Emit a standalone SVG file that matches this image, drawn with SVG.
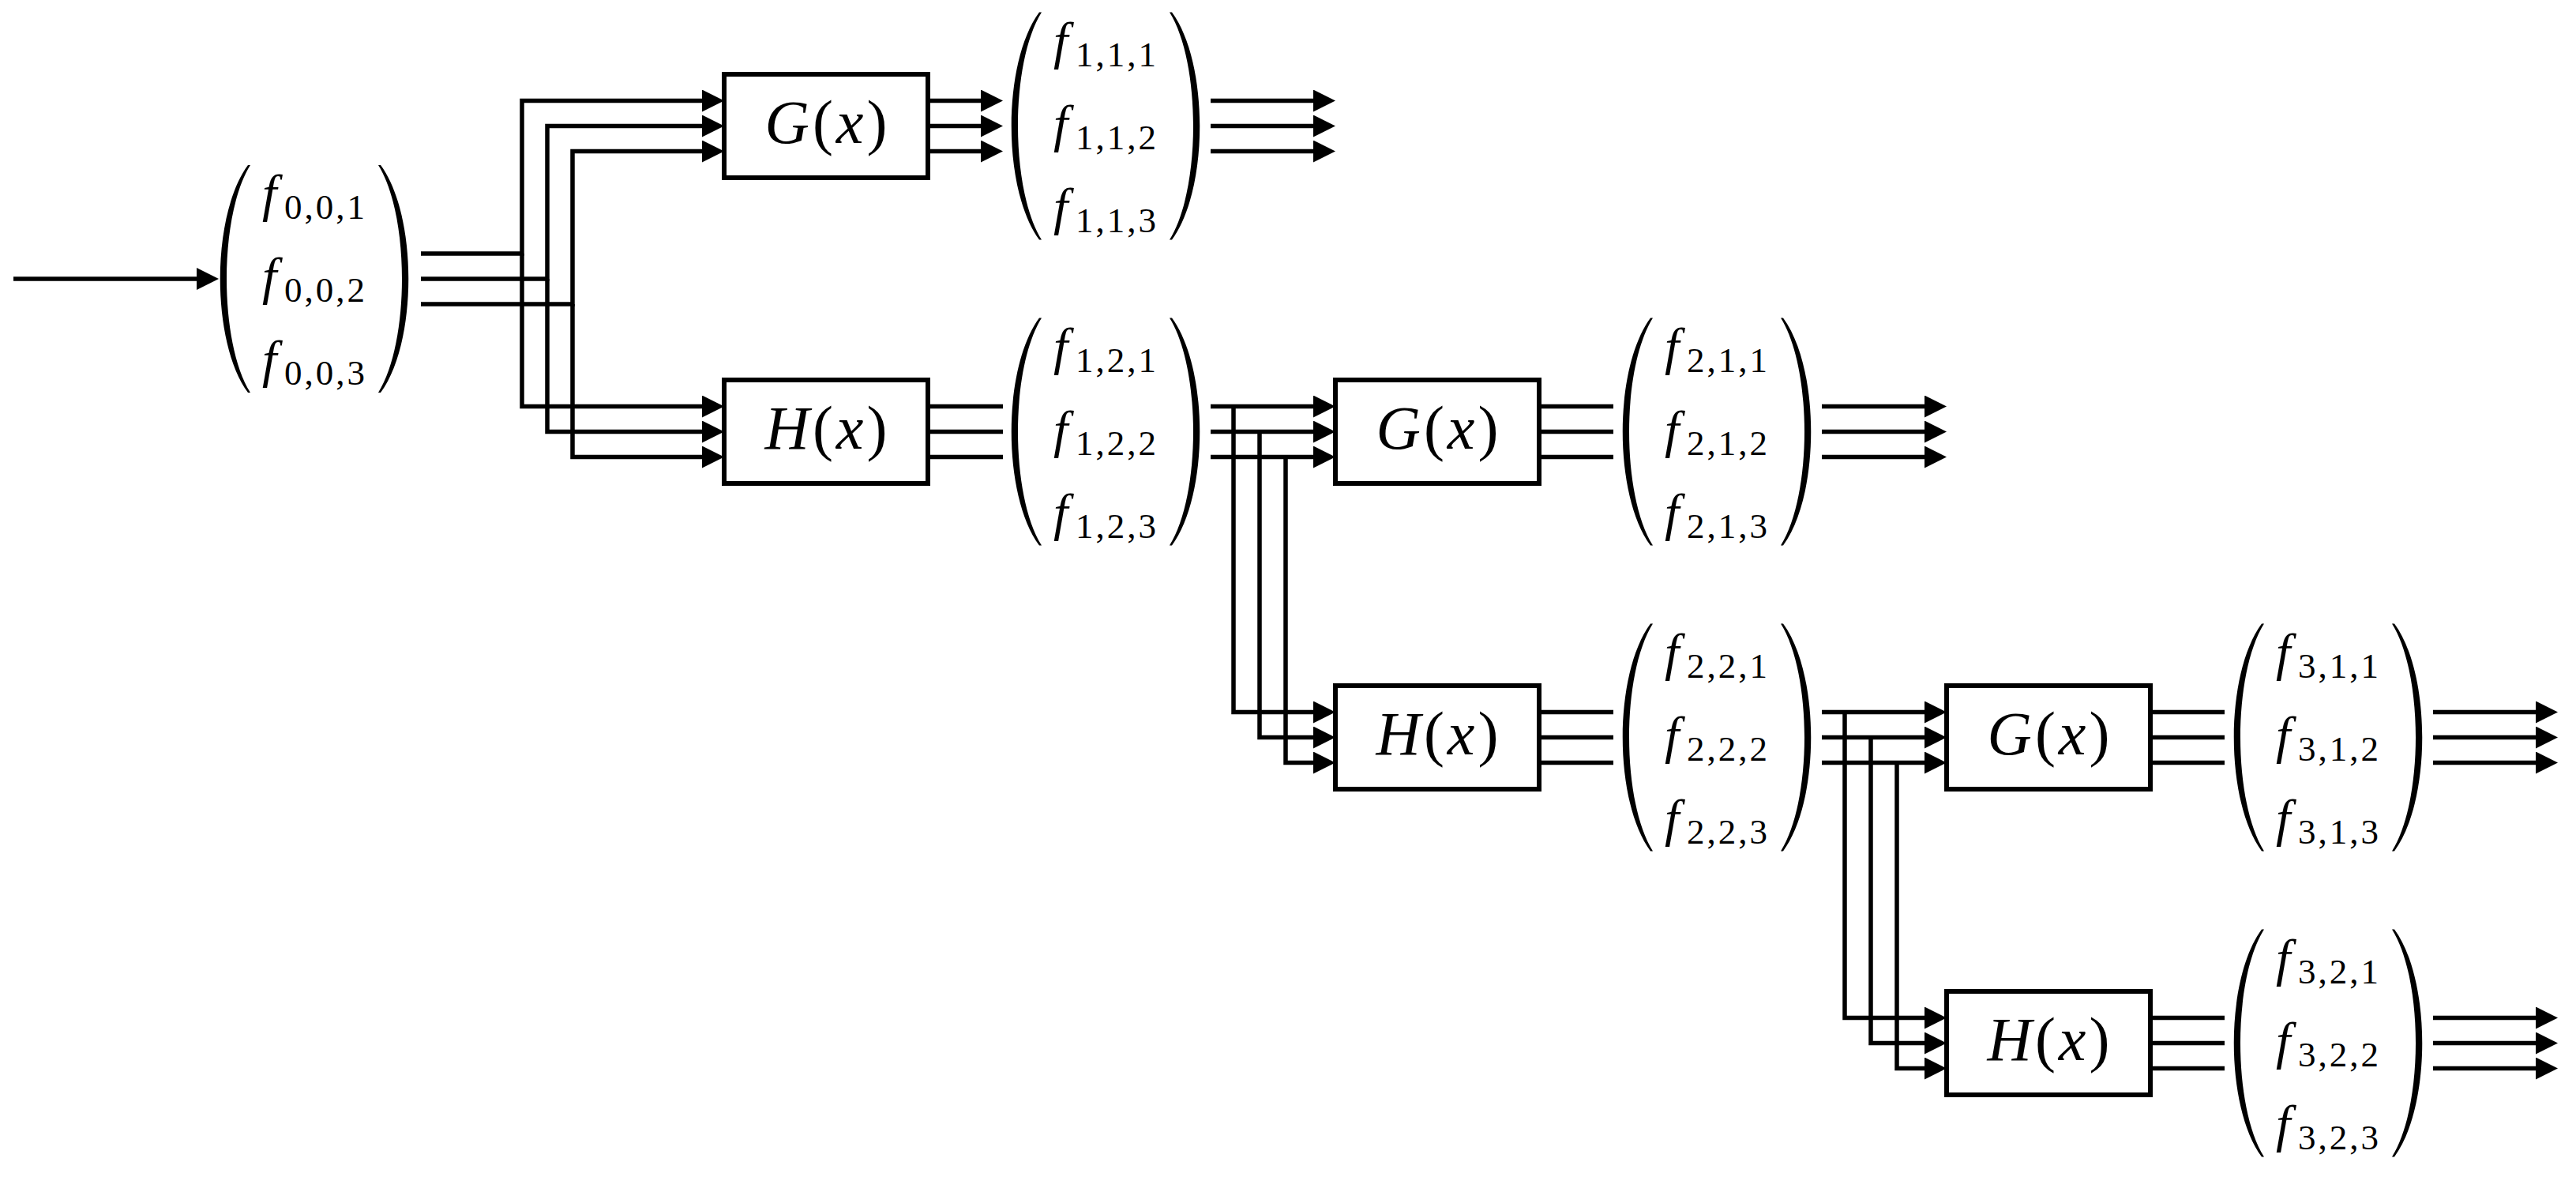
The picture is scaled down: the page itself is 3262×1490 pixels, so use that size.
<svg xmlns="http://www.w3.org/2000/svg" xmlns:xlink="http://www.w3.org/1999/xlink" width="3262" height="1490" viewBox="0 0 3262 1490">
<style>
.box{fill:#fff;stroke:#000;stroke-width:6}
.ln{fill:none;stroke:#000;stroke-width:5.5;stroke-linejoin:miter}
.arr{marker-end:url(#ah)}
.lbl{font-family:'Liberation Serif',serif;font-size:78px;letter-spacing:4px;fill:#000}
.it{font-style:italic}
.m{font-family:'Liberation Serif',serif;font-size:66px;font-style:italic;fill:#000}
.s{font-style:normal;font-size:45px;letter-spacing:3px}
</style>
<defs>
<marker id="ah" markerUnits="userSpaceOnUse" markerWidth="28" markerHeight="28" refX="18" refY="14" orient="auto"><path d="M0,0 L28,14 L0,28 Z" fill="#000"/></marker>
<path id="lp" d="M-84,-144 C-131,-80 -131,80 -84,144 L-81,144 C-121,80 -121,-80 -81,-144 Z" fill="#000"/>
</defs>
<rect width="3262" height="1490" fill="#fff"/>
<g id="connectors" class="ln">
<path class="arr" d="M17 353 H267"/>
<path class="arr" d="M533 321 H661 V127.5 H907"/>
<path class="arr" d="M661 321 V514.5 H907"/>
<path class="arr" d="M533 353 H693 V159.5 H907"/>
<path class="arr" d="M693 353 V546.5 H907"/>
<path class="arr" d="M533 385 H725 V191.5 H907"/>
<path class="arr" d="M725 385 V578.5 H907"/>
<path class="arr" d="M1175 127.5 H1260"/>
<path class="arr" d="M1175 159.5 H1260"/>
<path class="arr" d="M1175 191.5 H1260"/>
<path class="arr" d="M1533 127.5 H1681"/>
<path class="arr" d="M1533 159.5 H1681"/>
<path class="arr" d="M1533 191.5 H1681"/>
<path d="M1175 514.5 H1270 M1175 546.5 H1270 M1175 578.5 H1270"/>
<path class="arr" d="M1533 514.5 H1681"/>
<path class="arr" d="M1562 514.5 V901.5 H1681"/>
<path class="arr" d="M1533 546.5 H1681"/>
<path class="arr" d="M1595 546.5 V933.5 H1681"/>
<path class="arr" d="M1533 578.5 H1681"/>
<path class="arr" d="M1628 578.5 V965.5 H1681"/>
<path d="M1949 514.5 H2043 M1949 546.5 H2043 M1949 578.5 H2043"/>
<path class="arr" d="M2307 514.5 H2455"/>
<path class="arr" d="M2307 546.5 H2455"/>
<path class="arr" d="M2307 578.5 H2455"/>
<path d="M1949 901.5 H2043 M1949 933.5 H2043 M1949 965.5 H2043"/>
<path class="arr" d="M2307 901.5 H2455"/>
<path class="arr" d="M2336 901.5 V1288.5 H2455"/>
<path class="arr" d="M2307 933.5 H2455"/>
<path class="arr" d="M2369 933.5 V1320.5 H2455"/>
<path class="arr" d="M2307 965.5 H2455"/>
<path class="arr" d="M2402 965.5 V1352.5 H2455"/>
<path d="M2723 901.5 H2817 M2723 933.5 H2817 M2723 965.5 H2817"/>
<path class="arr" d="M3081 901.5 H3229"/>
<path class="arr" d="M3081 933.5 H3229"/>
<path class="arr" d="M3081 965.5 H3229"/>
<path d="M2723 1288.5 H2817 M2723 1320.5 H2817 M2723 1352.5 H2817"/>
<path class="arr" d="M3081 1288.5 H3229"/>
<path class="arr" d="M3081 1320.5 H3229"/>
<path class="arr" d="M3081 1352.5 H3229"/>
</g>
<g id="G1"><rect class="box" x="917" y="94" width="258" height="131"/><text class="lbl" x="1048" y="181" text-anchor="middle"><tspan class="it">G</tspan>(<tspan class="it">x</tspan>)</text></g>
<g id="H1"><rect class="box" x="917" y="481" width="258" height="131"/><text class="lbl" x="1048" y="568" text-anchor="middle"><tspan class="it">H</tspan>(<tspan class="it">x</tspan>)</text></g>
<g id="G2"><rect class="box" x="1691" y="481" width="258" height="131"/><text class="lbl" x="1822" y="568" text-anchor="middle"><tspan class="it">G</tspan>(<tspan class="it">x</tspan>)</text></g>
<g id="H2"><rect class="box" x="1691" y="868" width="258" height="131"/><text class="lbl" x="1822" y="955" text-anchor="middle"><tspan class="it">H</tspan>(<tspan class="it">x</tspan>)</text></g>
<g id="G3"><rect class="box" x="2465" y="868" width="258" height="131"/><text class="lbl" x="2596" y="955" text-anchor="middle"><tspan class="it">G</tspan>(<tspan class="it">x</tspan>)</text></g>
<g id="H3"><rect class="box" x="2465" y="1255" width="258" height="131"/><text class="lbl" x="2596" y="1342" text-anchor="middle"><tspan class="it">H</tspan>(<tspan class="it">x</tspan>)</text></g>
<g id="V0">
<use xlink:href="#lp" transform="translate(398,353)"/><use xlink:href="#lp" transform="translate(398,353) scale(-1,1)"/>
<text class="m" x="332" y="267">f<tspan class="s" x="360" y="277">0,0,1</tspan></text>
<text class="m" x="332" y="372">f<tspan class="s" x="360" y="382">0,0,2</tspan></text>
<text class="m" x="332" y="477">f<tspan class="s" x="360" y="487">0,0,3</tspan></text>
</g>
<g id="V11">
<use xlink:href="#lp" transform="translate(1400,159.5)"/><use xlink:href="#lp" transform="translate(1400,159.5) scale(-1,1)"/>
<text class="m" x="1334" y="73.5">f<tspan class="s" x="1362" y="83.5">1,1,1</tspan></text>
<text class="m" x="1334" y="178.5">f<tspan class="s" x="1362" y="188.5">1,1,2</tspan></text>
<text class="m" x="1334" y="283.5">f<tspan class="s" x="1362" y="293.5">1,1,3</tspan></text>
</g>
<g id="V12">
<use xlink:href="#lp" transform="translate(1400,546.5)"/><use xlink:href="#lp" transform="translate(1400,546.5) scale(-1,1)"/>
<text class="m" x="1334" y="460.5">f<tspan class="s" x="1362" y="470.5">1,2,1</tspan></text>
<text class="m" x="1334" y="565.5">f<tspan class="s" x="1362" y="575.5">1,2,2</tspan></text>
<text class="m" x="1334" y="670.5">f<tspan class="s" x="1362" y="680.5">1,2,3</tspan></text>
</g>
<g id="V21">
<use xlink:href="#lp" transform="translate(2174,546.5)"/><use xlink:href="#lp" transform="translate(2174,546.5) scale(-1,1)"/>
<text class="m" x="2108" y="460.5">f<tspan class="s" x="2136" y="470.5">2,1,1</tspan></text>
<text class="m" x="2108" y="565.5">f<tspan class="s" x="2136" y="575.5">2,1,2</tspan></text>
<text class="m" x="2108" y="670.5">f<tspan class="s" x="2136" y="680.5">2,1,3</tspan></text>
</g>
<g id="V22">
<use xlink:href="#lp" transform="translate(2174,933.5)"/><use xlink:href="#lp" transform="translate(2174,933.5) scale(-1,1)"/>
<text class="m" x="2108" y="847.5">f<tspan class="s" x="2136" y="857.5">2,2,1</tspan></text>
<text class="m" x="2108" y="952.5">f<tspan class="s" x="2136" y="962.5">2,2,2</tspan></text>
<text class="m" x="2108" y="1057.5">f<tspan class="s" x="2136" y="1067.5">2,2,3</tspan></text>
</g>
<g id="V31">
<use xlink:href="#lp" transform="translate(2948,933.5)"/><use xlink:href="#lp" transform="translate(2948,933.5) scale(-1,1)"/>
<text class="m" x="2882" y="847.5">f<tspan class="s" x="2910" y="857.5">3,1,1</tspan></text>
<text class="m" x="2882" y="952.5">f<tspan class="s" x="2910" y="962.5">3,1,2</tspan></text>
<text class="m" x="2882" y="1057.5">f<tspan class="s" x="2910" y="1067.5">3,1,3</tspan></text>
</g>
<g id="V32">
<use xlink:href="#lp" transform="translate(2948,1320.5)"/><use xlink:href="#lp" transform="translate(2948,1320.5) scale(-1,1)"/>
<text class="m" x="2882" y="1234.5">f<tspan class="s" x="2910" y="1244.5">3,2,1</tspan></text>
<text class="m" x="2882" y="1339.5">f<tspan class="s" x="2910" y="1349.5">3,2,2</tspan></text>
<text class="m" x="2882" y="1444.5">f<tspan class="s" x="2910" y="1454.5">3,2,3</tspan></text>
</g>
</svg>
